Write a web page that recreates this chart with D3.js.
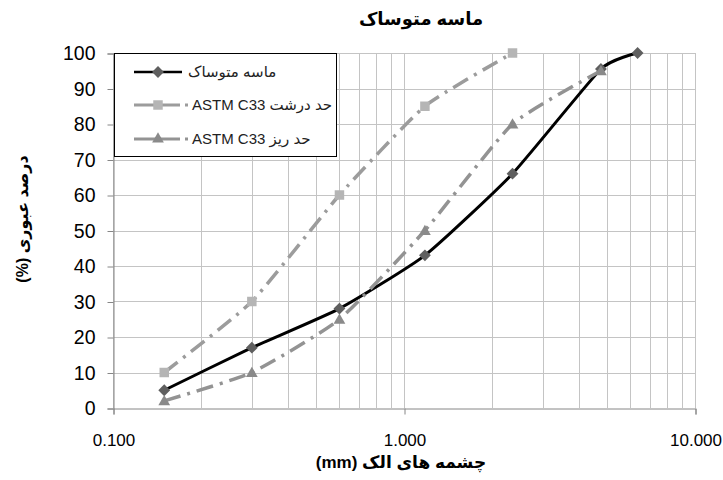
<!DOCTYPE html>
<html>
<head>
<meta charset="utf-8">
<script src="https://cdn.jsdelivr.net/npm/d3@7"></script>
<style>
  body { margin: 0; background: #fff; }
  svg { display: block; font-family: "Liberation Sans", Arial, "DejaVu Sans", sans-serif; }
</style>
</head>
<body>
<svg id="chart" width="723" height="480"></svg>
<script>
// ---- data ----
const chartTitle = "ماسه متوساک";
const xTitle = "(mm) چشمه های الک";
const yTitle = "(%) درصد  عبوری";

const seriesNames = ["ماسه  متوساک", "ASTM C33 حد درشت", "ASTM C33 حد ریز"];

const sandX = [0.15, 0.3, 0.6, 1.18, 2.36, 4.75, 6.35];
const sandY = [5, 17, 28, 43, 66, 95.5, 100];

const coarseX = [0.15, 0.3, 0.6, 1.18, 2.36];
const coarseY = [10, 30, 60, 85, 100];

const fineX = [0.15, 0.3, 0.6, 1.18, 2.36, 4.75];
const fineY = [2, 10, 25, 50, 80, 95];

const xTickValues = [0.1, 1, 10];
const yTickValues = [0, 10, 20, 30, 40, 50, 60, 70, 80, 90, 100];

// ---- layout ----
const svg = d3.select("#chart");
const x = d3.scaleLog().domain([0.1, 10]).range([113, 695]);
const y = d3.scaleLinear().domain([0, 100]).range([408, 53]);

// gridlines
const grid = svg.append("g").attr("stroke", "#c4c4c4").attr("stroke-width", 1);
grid.selectAll("line.v").data(x.ticks()).join("line")
  .attr("x1", d => Math.round(x(d)) + 0.5).attr("x2", d => Math.round(x(d)) + 0.5)
  .attr("y1", y(100)).attr("y2", y(0));
grid.selectAll("line.h").data(yTickValues.filter(d => d > 0)).join("line")
  .attr("x1", x(0.1)).attr("x2", x(10))
  .attr("y1", d => Math.round(y(d)) + 0.5).attr("y2", d => Math.round(y(d)) + 0.5);

// axes
const yAxis = svg.append("g").attr("transform", `translate(${x(0.1) + 0.5},0.5)`)
  .call(d3.axisLeft(y).tickValues(yTickValues).tickSize(6).tickPadding(12).tickFormat(d3.format("d")));
const xAxis = svg.append("g").attr("transform", `translate(0.5,${y(0) + 0.5})`)
  .call(d3.axisBottom(x).tickValues(xTickValues).tickSize(6).tickPadding(19).tickFormat(d3.format(".3f")));
[yAxis, xAxis].forEach(g => {
  g.select(".domain").attr("stroke", "#868686");
  g.selectAll(".tick line").attr("stroke", "#868686");
  g.selectAll("text").attr("fill", "#000").attr("font-family", "'Liberation Sans', Arial, sans-serif");
});
yAxis.selectAll("text").attr("font-size", 19.5);
xAxis.selectAll("text").attr("font-size", 17);

// lines
const line = d3.line().x(d => x(d[0])).y(d => y(d[1])).curve(d3.curveCardinal.tension(0.5));
const dashPat = "17,7,3,7";

const sand = d3.zip(sandX, sandY);
const coarse = d3.zip(coarseX, coarseY);
const fine = d3.zip(fineX, fineY);

const diamond = d3.symbol().type(d3.symbolSquare).size(70);
const square = d3.symbol().type(d3.symbolSquare).size(90);
const tri = d3.symbol().type(d3.symbolTriangle).size(60);

// sand series
svg.append("path").datum(sand).attr("d", line)
  .attr("fill", "none").attr("stroke", "#000").attr("stroke-width", 3);
svg.selectAll("path.dm").data(sand).join("path").attr("class", "dm")
  .attr("d", diamond).attr("fill", "#5f5f5f")
  .attr("transform", d => `translate(${x(d[0])},${y(d[1])}) rotate(45)`);

// coarse limit
svg.append("path").datum(coarse).attr("d", line)
  .attr("fill", "none").attr("stroke", "#9c9c9c").attr("stroke-width", 3.5)
  .attr("stroke-dasharray", dashPat);
svg.selectAll("path.sq").data(coarse).join("path").attr("class", "sq")
  .attr("d", square).attr("fill", "#b5b5b5")
  .attr("transform", d => `translate(${x(d[0])},${y(d[1])})`);

// fine limit
svg.append("path").datum(fine).attr("d", line)
  .attr("fill", "none").attr("stroke", "#939393").attr("stroke-width", 3.5)
  .attr("stroke-dasharray", dashPat);
svg.selectAll("path.tr").data(fine).join("path").attr("class", "tr")
  .attr("d", tri).attr("fill", "#8a8a8a")
  .attr("transform", d => `translate(${x(d[0])},${y(d[1]) + 1})`);

// legend
const lg = svg.append("g");
lg.append("rect").attr("x", 114.5).attr("y", 53.5).attr("width", 222).attr("height", 103)
  .attr("fill", "#fff").attr("stroke", "#000").attr("stroke-width", 1);
const rows = [72, 105, 139];
const markers = [
  {sym: diamond, fill: "#5f5f5f", stroke: "#000", dash: null, rot: 45, w: 2.5},
  {sym: square, fill: "#b5b5b5", stroke: "#9c9c9c", dash: "46,5,3,100", rot: 0, w: 3},
  {sym: tri, fill: "#8a8a8a", stroke: "#939393", dash: "46,5,3,100", rot: 0, w: 3}
];
rows.forEach((ry, i) => {
  const m = markers[i];
  lg.append("line").attr("x1", 134).attr("x2", i === 0 ? 182 : 190)
    .attr("y1", ry).attr("y2", ry).attr("stroke", m.stroke).attr("stroke-width", m.w)
    .attr("stroke-dasharray", m.dash);
  lg.append("path").attr("d", m.sym).attr("fill", m.fill)
    .attr("transform", `translate(158,${ry}) rotate(${m.rot})`);
  lg.append("text").attr("x", i === 0 ? 188 : 192).attr("y", ry + 5)
    .attr("font-size", 15).attr("fill", "#222").text(seriesNames[i]);
});

// titles
svg.append("text").attr("x", 421).attr("y", 25).attr("text-anchor", "middle")
  .attr("font-size", 18).attr("font-weight", "bold").text(chartTitle);
svg.append("text").attr("x", 401).attr("y", 468).attr("text-anchor", "middle")
  .attr("font-size", 17).attr("font-weight", "bold").text(xTitle);
svg.append("text").attr("transform", "translate(28,219) rotate(-90)").attr("text-anchor", "middle")
  .attr("font-size", 16).attr("font-weight", "bold").text(yTitle);
</script>
</body>
</html>
